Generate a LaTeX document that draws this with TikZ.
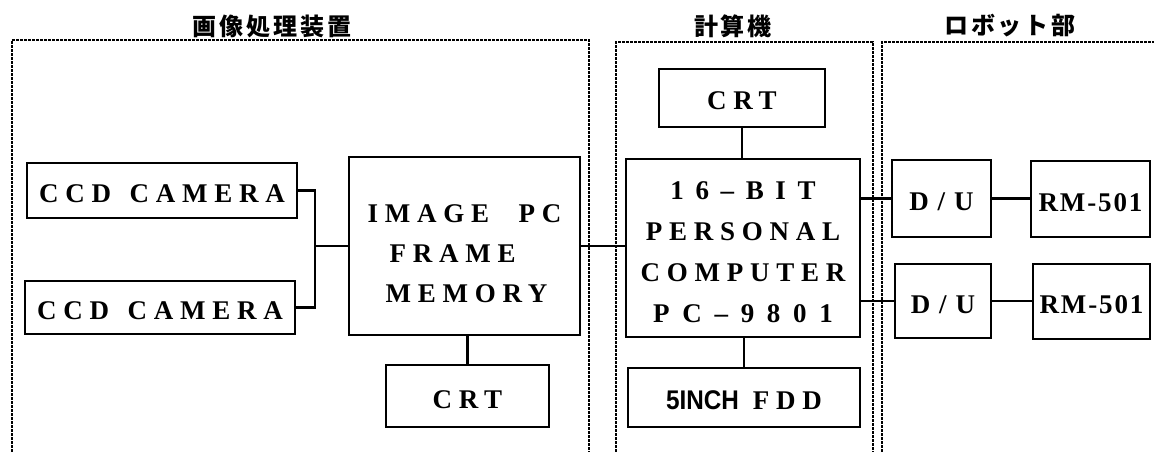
\documentclass[tikz,border=0pt]{standalone}
\usepackage{fontspec}
\setmainfont{Liberation Serif}
\newfontfamily\mfont[LetterSpace=25]{Liberation Serif}
\newfontfamily\nfont[FakeStretch=0.9]{Liberation Sans}
\newfontfamily\jfont[LetterSpace=12]{Noto Sans CJK JP}
\tikzset{
  box/.style={draw, line width=2.4pt, inner sep=0pt, align=center,
    text height=24pt, text depth=0pt,
    font=\mfont\bfseries\fontsize{27}{40}\selectfont},
  wire/.style={line width=2.4pt},
  frame/.style={line width=2pt, dash pattern=on 3pt off 1pt},
  title/.style={inner sep=0pt, font=\jfont\bfseries\fontsize{24}{26}\selectfont}
}
\begin{document}
\begin{tikzpicture}[x=1pt,y=-1pt]
\useasboundingbox (0,0) rectangle (1154,452);
% titles
\node[title] (t1) at (272,26) {画像処理装置};
\node[title] (t2) at (733,26) {計算機};
\node[title] (t3) at (1010,26) {ロボット部};
% frames
\draw[frame] (12,452) -- (12,40) -- (589,40) -- (589,452);
\draw[frame] (616,452) -- (616,42) -- (873,42) -- (873,452);
\draw[frame] (882,452) -- (882,42) -- (1154,42);
% boxes
\node[box, minimum width=270pt, minimum height=55pt] (cam1) at (162,190.5) {CCD\hspace{5pt} CAMERA};
\node[box, minimum width=270pt, minimum height=53pt] (cam2) at (160,307.5) {CCD\hspace{5pt} CAMERA};
\node[box, minimum width=231pt, minimum height=178pt, text height=112pt, align=left] (img) at (464.5,246)
  {IMAGE\hspace{16pt} PC\\\hspace*{22pt}FRAME\\\hspace*{18pt}MEMORY};
\node[box, minimum width=163pt, minimum height=62pt] (crt1) at (467.5,396) {CRT};
\node[box, minimum width=166pt, minimum height=58pt] (crt2) at (742,98) {CRT};
\node[box, minimum width=234pt, minimum height=178pt, text height=148pt,
  font=\mfont\bfseries\fontsize{27}{41}\selectfont] (pc) at (743,248)
  {{\addfontfeature{LetterSpace=43}16–BIT}\\PERSONAL\\COMPUTER\\{\addfontfeature{LetterSpace=47}PC–9801}};
\node[box, minimum width=232pt, minimum height=59pt] (fdd) at (744,397.5) {{\nfont\bfseries 5INCH}\hspace{14pt}FDD};
\node[box, minimum width=99pt, minimum height=77pt] (du1) at (941.5,198.5) {{\addfontfeature{LetterSpace=33}D/U}};
\node[box, minimum width=96pt, minimum height=74pt] (du2) at (943,301) {{\addfontfeature{LetterSpace=33}D/U}};
\node[box, minimum width=119pt, minimum height=76pt] (rm1) at (1090.5,199) {{\addfontfeature{LetterSpace=7}RM-501}};
\node[box, minimum width=117pt, minimum height=75pt] (rm2) at (1091.5,301.5) {{\addfontfeature{LetterSpace=7}RM-501}};
% connectors
\coordinate (bus) at (315,246);
\draw[wire] (cam1.east) -| (bus) |- (cam2.east);
\draw[wire] (bus) -- (img.west);
\draw[wire] (crt1.north |- img.south) -- (crt1.north);
\draw[wire] (img.east) -- (img.east -| pc.west);
\draw[wire] (crt2.south) -- (crt2.south |- pc.north);
\draw[wire] (fdd.north |- pc.south) -- (fdd.north);
\draw[wire] (du1.west -| pc.east) -- (du1.west);
\draw[wire] (du2.west -| pc.east) -- (du2.west);
\draw[wire] (du1.east) -- (du1.east -| rm1.west);
\draw[wire] (du2.east) -- (du2.east -| rm2.west);
\end{tikzpicture}
\end{document}
